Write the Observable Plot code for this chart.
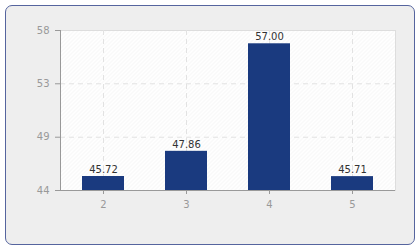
<!DOCTYPE html>
<html>
<head>
<meta charset="utf-8">
<script src="https://cdn.jsdelivr.net/npm/d3@7"></script>
<script src="https://cdn.jsdelivr.net/npm/@observablehq/plot@0.6"></script>
<style>
  html, body { margin: 0; padding: 0; background: #ffffff; }
  #wrap { position: relative; width: 420px; height: 250px; }
  #box { position: absolute; left: 5px; top: 5px; width: 408px; height: 238px;
         border: 1px solid #55649e; border-radius: 7px; background: #eeeeee; }
  #chart { position: absolute; left: 0; top: 0; }
</style>
</head>
<body>
<div id="wrap"><div id="box"></div><div id="chart"></div></div>
<script>
const categories = ["2", "3", "4", "5"];
const values = [45.72, 47.86, 57.00, 45.71];
const yDomain = [44.53, 58.13];
const yTickValues = [44.53, 49.06, 53.6, 58.13];
const yTickLabels = ["44", "49", "53", "58"];

const data = categories.map((c, i) => ({cat: c, value: values[i]}));
const labelOf = new Map(yTickValues.map((v, i) => [v, yTickLabels[i]]));

const axisLines = (index, scales, values, dims) => {
  const g = d3.create("svg:g");
  const x0 = dims.marginLeft, x1 = dims.width - dims.marginRight;
  const y0 = dims.marginTop, y1 = dims.height - dims.marginBottom;
  g.append("line").attr("x1", x0 + 0.5).attr("x2", x0 + 0.5).attr("y1", y0).attr("y2", y1 + 0.5)
    .attr("stroke", "#999");
  g.append("line").attr("x1", x0 - 5).attr("x2", x1).attr("y1", y1 + 0.5).attr("y2", y1 + 0.5)
    .attr("stroke", "#999");
  return g.node();
};

const plot = Plot.plot({
  width: 420,
  height: 250,
  marginLeft: 60,
  marginRight: 25,
  marginTop: 30,
  marginBottom: 60,
  style: {background: "transparent", fontFamily: "DejaVu Sans, sans-serif", fontSize: "10px", color: "#999"},
  x: {domain: categories, paddingInner: 0.5, paddingOuter: 0.25, label: null},
  y: {domain: yDomain, label: null},
  marks: [
    Plot.frame({fill: "url(#hatch)", stroke: "#dddddd"}),
    Plot.ruleY(yTickValues.slice(1, 3), {stroke: "#e2e2e2", strokeDasharray: "5,4"}),
    Plot.gridX({stroke: "#e2e2e2", strokeOpacity: 1, strokeDasharray: "5,4"}),
    Plot.barY(data, {x: "cat", y1: yDomain[0], y2: "value", fill: "#1a3a7f"}),
    Plot.text(data, {x: "cat", y: "value", text: d => d.value.toFixed(2), dy: -7, fill: "#333", fontSize: 10}),
    Plot.axisY({ticks: yTickValues, tickFormat: d => labelOf.get(d), tickSize: 5, tickPadding: 6, stroke: "#999", fill: "#999"}),
    Plot.axisX({tickSize: 4, tickPadding: 6, stroke: "#999", fill: "#999"}),
    axisLines
  ]
});

const defs = d3.create("svg:defs");
const pat = defs.append("pattern").attr("id", "hatch").attr("patternUnits", "userSpaceOnUse")
  .attr("width", 4).attr("height", 4);
pat.append("rect").attr("width", 4).attr("height", 4).attr("fill", "#ffffff");
pat.append("path").attr("d", "M-1,1 l2,-2 M0,4 l4,-4 M3,5 l2,-2").attr("stroke", "#f3f3f3").attr("stroke-width", 1);
plot.insertBefore(defs.node(), plot.firstChild);

document.getElementById("chart").appendChild(plot);
</script>
</body>
</html>
